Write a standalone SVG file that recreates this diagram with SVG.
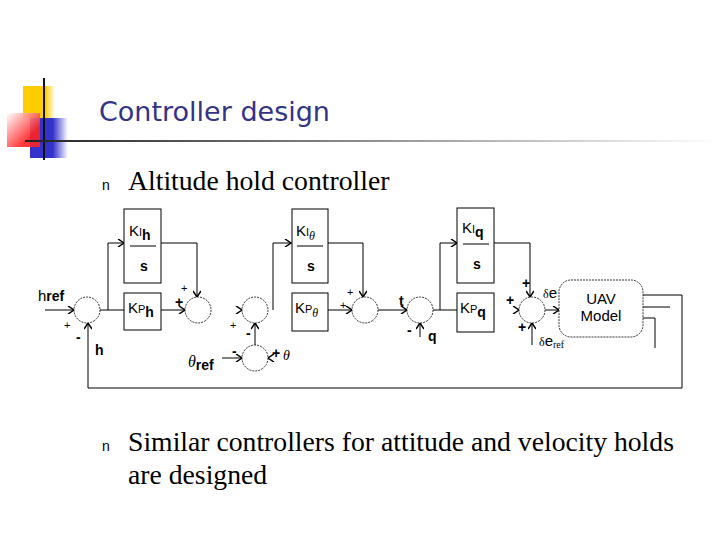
<svg xmlns="http://www.w3.org/2000/svg" width="720" height="540" viewBox="0 0 720 540">
<defs>
<linearGradient id="hl" x1="0" x2="1"><stop offset="0" stop-color="#222"/><stop offset="1" stop-color="#fff"/></linearGradient>
<linearGradient id="rd" x1="0" x2="1" y1="0" y2="1"><stop offset="0" stop-color="#fff"/><stop offset="0.7" stop-color="#f22"/></linearGradient>
<linearGradient id="bl" x1="0" x2="1"><stop offset="0.6" stop-color="#33c"/><stop offset="1" stop-color="#fff"/></linearGradient>
<linearGradient id="yl" x1="0" x2="1"><stop offset="0.7" stop-color="#fc0"/><stop offset="1" stop-color="#fff"/></linearGradient>
<marker id="a" markerWidth="8" markerHeight="8" refX="7" refY="4" orient="auto" markerUnits="userSpaceOnUse"><path d="M1,0 L7,4 L1,8" fill="none" stroke="#000" stroke-width="1.5"/></marker>
</defs>
<style>
.l{fill:none;stroke:#000;stroke-width:1}
.b{fill:#fff;stroke:#000;stroke-width:1}
.c{fill:#fff;stroke:#000;stroke-width:0.8;stroke-dasharray:2 1}
.t{font-family:"Liberation Sans",Arial,sans-serif;font-size:15px}
.s{font-family:"Liberation Sans",Arial,sans-serif;font-size:11px}
.m{font-family:"Liberation Sans",Arial,sans-serif;font-size:14px;font-weight:bold}
.r{font-family:"Liberation Serif","Times New Roman",serif;font-size:27.7px}
</style>
<rect width="720" height="540" fill="#fff"/>
<g id="deco">
<rect x="23" y="86" width="32" height="32" fill="url(#yl)"/>
<rect x="30" y="118" width="38" height="40" fill="url(#bl)"/>
<rect x="7" y="113" width="33" height="34" fill="url(#rd)" opacity="0.9"/>
<line x1="44" y1="78" x2="44" y2="160" stroke="#111" stroke-width="2"/>
<rect x="25" y="140" width="695" height="2" fill="url(#hl)"/>
</g>
<text x="99" y="121" font-family="'DejaVu Sans',Verdana,sans-serif" font-size="27" fill="#333388">Controller design</text>
<text x="102" y="190" font-family="'Liberation Sans',sans-serif" font-size="14">n</text>
<text x="128" y="190" class="r">Altitude hold controller</text>
<text x="102" y="451" font-family="'Liberation Sans',sans-serif" font-size="14">n</text>
<text x="128" y="451" class="r">Similar controllers for attitude and velocity holds</text>
<text x="128" y="484" class="r">are designed</text>

<g id="connectors">
<path class="l" d="M45,310 H74" marker-end="url(#a)"/>
<path class="l" d="M100,310 H124"/>
<path class="l" d="M108,310 V243 H124" marker-end="url(#a)"/>
<path class="l" d="M161,243 H197 V297" marker-end="url(#a)"/>
<path class="l" d="M161,310 H185" marker-end="url(#a)"/>
<path class="l" d="M211,310 H242" marker-end="url(#a)" stroke-opacity="0"/>
<path class="l" d="M273,310 V243 H291" marker-end="url(#a)"/>
<path class="l" d="M222,358 H242" marker-end="url(#a)"/>
<path class="l" d="M280,358 H268" marker-end="url(#a)" stroke-opacity="0"/>
<path class="l" d="M255,345 V323" marker-end="url(#a)"/>
<path class="l" d="M328,243 H363 V297" marker-end="url(#a)"/>
<path class="l" d="M328,310 H352" marker-end="url(#a)"/>
<path class="l" d="M378,310 H407" marker-end="url(#a)"/>
<path class="l" d="M433,310 H457"/>
<path class="l" d="M440,310 V243 H457" marker-end="url(#a)"/>
<path class="l" d="M420,337 V323" marker-end="url(#a)"/>
<path class="l" d="M494,243 H530 V297" marker-end="url(#a)"/>
<path class="l" d="M510,310 H519" marker-end="url(#a)" stroke-opacity="0"/>
<path class="l" d="M532,345 V323" marker-end="url(#a)"/>
<path class="l" d="M545,310 H559" marker-end="url(#a)"/>
<path class="l" d="M643,295 H682 V388 H88 V323" marker-end="url(#a)"/>
<path class="l" d="M643,307 H670"/>
<path class="l" d="M643,318 H655 V348"/>
</g>

<g id="sum1"><circle class="c" cx="87" cy="310" r="13"/></g>
<g id="sum2"><circle class="c" cx="198" cy="310" r="13"/></g>
<g id="sum3"><circle class="c" cx="255" cy="310" r="13"/></g>
<g id="sum4"><circle class="c" cx="255" cy="358" r="13"/></g>
<g id="sum5"><circle class="c" cx="365" cy="310" r="13"/></g>
<g id="sum6"><circle class="c" cx="420" cy="310" r="13"/></g>
<g id="sum7"><circle class="c" cx="532" cy="310" r="13"/></g>

<g id="KIh"><rect class="b" x="124" y="209" width="37" height="74"/><line class="l" x1="130" y1="246" x2="156" y2="246"/><text x="129" y="236" class="t">K<tspan class="s">I</tspan><tspan class="m" dy="4">h</tspan></text><text x="140" y="271" class="m">s</text></g>
<g id="KPh"><rect class="b" x="124" y="293" width="37" height="37"/><text x="128" y="313" class="t">K<tspan class="s">P</tspan><tspan class="m" dy="4">h</tspan></text></g>
<g id="KItheta"><rect class="b" x="292" y="209" width="36" height="74"/><line class="l" x1="297" y1="246" x2="323" y2="246"/><text x="296" y="236" class="t">K<tspan class="s">I</tspan><tspan font-family="'Liberation Serif',serif" font-style="italic" font-size="12" dy="4">θ</tspan></text><text x="307" y="271" class="m">s</text></g>
<g id="KPtheta"><rect class="b" x="292" y="293" width="36" height="38"/><text x="295" y="313" class="t">K<tspan class="s">P</tspan><tspan font-family="'Liberation Serif',serif" font-style="italic" font-size="12" dy="4">θ</tspan></text></g>
<g id="KIq"><rect class="b" x="457" y="208" width="37" height="75"/><line class="l" x1="463" y1="244" x2="489" y2="244"/><text x="462" y="233" class="t">K<tspan class="s">I</tspan><tspan class="m" dy="4">q</tspan></text><text x="473" y="269" class="m">s</text></g>
<g id="KPq"><rect class="b" x="457" y="293" width="37" height="39"/><text x="460" y="313" class="t">K<tspan class="s">P</tspan><tspan class="m" dy="4">q</tspan></text></g>
<g id="UAV"><rect class="c" x="559" y="280" width="84" height="57" rx="12"/><text x="601" y="304" class="t" text-anchor="middle">UAV</text><text x="601" y="321" class="t" text-anchor="middle">Model</text></g>

<g id="labels" class="s">
<text x="38" y="301" class="t">h<tspan class="m">ref</tspan></text>
<text x="64" y="329">+</text><text x="76" y="342" class="m">-</text>
<text x="95" y="355" class="m">h</text>
<text x="181" y="292">+</text><text x="175" y="307" class="m">+</text>
<text x="230" y="329">+</text><text x="246" y="338" class="m">-</text>
<text x="232" y="356" class="m">-</text><text x="272" y="358" class="m">+</text>
<text x="283" y="360" font-family="'Liberation Serif',serif" font-style="italic" font-size="14">θ</text>
<text x="188" y="367" font-family="'Liberation Serif',serif" font-style="italic" font-size="16">θ<tspan class="m" font-style="normal" dy="3">ref</tspan></text>
<text x="347" y="296">+</text><text x="340" y="309">+</text>
<text x="399" y="306" class="m">t</text>
<text x="407" y="335" class="m">-</text><text x="428" y="341" class="m">q</text>
<text x="522" y="288" class="m">+</text><text x="506" y="305" class="m">+</text>
<text x="518" y="332" class="m">+</text>
<text x="543" y="298" font-family="'Liberation Serif',serif" font-size="12">δ<tspan class="t">e</tspan></text>
<text x="539" y="346" font-family="'Liberation Serif',serif" font-size="12">δ<tspan class="t">e</tspan><tspan font-size="10" dy="2">ref</tspan></text>
</g>
</svg>
